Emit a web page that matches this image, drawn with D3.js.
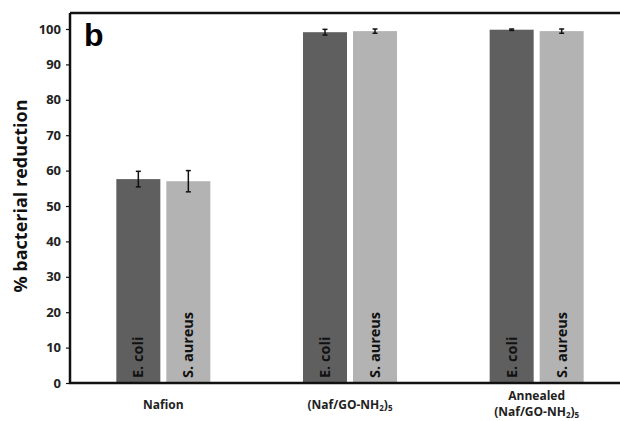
<!DOCTYPE html>
<html>
<head>
<meta charset="utf-8">
<script src="https://cdn.jsdelivr.net/npm/d3@7"></script>
<style>
	body { margin:0; background:white; }
	svg text { font-family: "Open Sans", "DejaVu Sans", sans-serif; font-weight: 700; }
</style>
</head>
<body>
<div id="chart"></div>
<script>
// data
var groups = ['Nafion', 'NafGO', 'Annealed']
var strains = ['E. coli', 'S. aureus']
var ecoli = [57.6, 99.1, 99.8]
var ecoliErr = [2.2, 0.8, 0.2]
var saureus = [57.0, 99.4, 99.4]
var saureusErr = [3.0, 0.6, 0.6]
var yTicks = [0, 10, 20, 30, 40, 50, 60, 70, 80, 90, 100]

var width = 620, height = 421
var colors = {'E. coli': '#5f5f5f', 'S. aureus': '#b3b3b3'}

var rows = groups.map(function(g, i) {
	return {group: g, bars: [
		{strain: 'E. coli', v: ecoli[i], e: ecoliErr[i]},
		{strain: 'S. aureus', v: saureus[i], e: saureusErr[i]}
	]}
})

var svg = d3.select('#chart').append('svg')
	.attr('width', width)
	.attr('height', height)

var x0 = d3.scaleBand().domain(groups).range([70, 630]).paddingInner(0).paddingOuter(0)
var x1 = d3.scaleBand().domain(strains).range([0, 94]).paddingInner(0.12)
var y = d3.scaleLinear().domain([0, 100]).range([383, 29])

// top frame line
svg.append('line')
	.attr('x1', 70).attr('x2', 620)
	.attr('y1', 13).attr('y2', 13)
	.attr('stroke', '#111').attr('stroke-width', 2.5)

var g = svg.selectAll('.grp')
	.data(rows)
	.enter()
	.append('g')
	.attr('class', 'grp')
	.attr('transform', function(d) {
		return 'translate(' + (x0(d.group) + x0.bandwidth() / 2 - 47) + ',0)'
	})

g.selectAll('rect')
	.data(function(d) { return d.bars })
	.enter()
	.append('rect')
	.attr('x', function(d) { return x1(d.strain) })
	.attr('width', x1.bandwidth())
	.attr('y', function(d) { return y(d.v) })
	.attr('height', function(d) { return y(0) - y(d.v) })
	.attr('fill', function(d) { return colors[d.strain] })

// error bars
var eb = g.selectAll('.err')
	.data(function(d) { return d.bars })
	.enter()
	.append('g')
	.attr('class', 'err')
	.attr('transform', function(d) { return 'translate(' + (x1(d.strain) + x1.bandwidth() / 2) + ',0)' })
eb.append('line')
	.attr('y1', function(d) { return y(d.v + d.e) })
	.attr('y2', function(d) { return y(d.v - d.e) })
	.attr('stroke', '#111').attr('stroke-width', 1.5)
eb.selectAll('.cap')
	.data(function(d) { return [d.v + d.e, d.v - d.e] })
	.enter()
	.append('line')
	.attr('x1', -2.5).attr('x2', 2.5)
	.attr('y1', function(d) { return y(d) })
	.attr('y2', function(d) { return y(d) })
	.attr('stroke', '#111').attr('stroke-width', 1.5)

// labels in bars
g.selectAll('.inlabel')
	.data(function(d) { return d.bars })
	.enter()
	.append('text')
	.attr('class', 'inlabel')
	.attr('transform', function(d) {
		return 'translate(' + (x1(d.strain) + x1.bandwidth() / 2 + 5) + ',378) rotate(-90)'
	})
	.style('font-size', '14.5px')
	.style('font-weight', 700)
	.attr('fill', '#111')
	.text(function(d) { return d.strain })

// y axis
var yAxis = svg.append('g')
	.attr('transform', 'translate(70,0)')
	.call(d3.axisLeft(y).tickValues(yTicks).tickSize(4).tickPadding(5))
yAxis.select('.domain').attr('stroke', '#111').attr('stroke-width', 2.5)
	.attr('d', 'M0,13V383')
yAxis.selectAll('.tick line').attr('stroke', '#111').attr('stroke-width', 1.2)
yAxis.selectAll('.tick text')
	.style('font-size', '13px')
	.style('font-family', '"Open Sans", sans-serif')
	.style('font-weight', 700)
	.attr('fill', '#222')

// x baseline
svg.append('line')
	.attr('x1', 69).attr('x2', 620)
	.attr('y1', 383).attr('y2', 383)
	.attr('stroke', '#111').attr('stroke-width', 2.5)

// category labels
var xl = svg.append('g').selectAll('text')
	.data(groups)
	.enter()
	.append('text')
	.attr('x', function(d) { return x0(d) + x0.bandwidth() / 2 })
	.attr('y', function(d) { return d === 'Annealed' ? 400 : 409 })
	.attr('text-anchor', 'middle')
	.style('font-size', '12px')
	.style('font-weight', 700)
	.attr('fill', '#222')
xl.each(function(d) {
	var t = d3.select(this)
	if (d === 'Nafion') {
		t.text('Nafion')
		return
	}
	var yy = d === 'Annealed' ? 416 : 409
	if (d === 'Annealed') {
		t.append('tspan').attr('x', t.attr('x')).attr('y', 400).text('Annealed')
	}
	var tl = t.append('tspan').attr('x', t.attr('x')).attr('y', yy)
	tl.append('tspan').text('(Naf/GO-NH')
	tl.append('tspan').attr('dy', 2).style('font-size', '8px').text('2')
	tl.append('tspan').attr('dy', -2).text(')')
	tl.append('tspan').attr('dy', 2).style('font-size', '8px').text('5')
})

// y title
svg.append('text')
	.attr('transform', 'translate(27,196) rotate(-90)')
	.attr('text-anchor', 'middle')
	.style('font-size', '18px')
	.attr('fill', '#111')
	.text('% bacterial reduction')

// panel letter
svg.append('text')
	.attr('x', 84).attr('y', 46)
	.style('font-size', '32px')
	.style('font-family', 'Arial, "Liberation Sans", sans-serif')
	.attr('fill', '#000')
	.text('b')
</script>
</body>
</html>
